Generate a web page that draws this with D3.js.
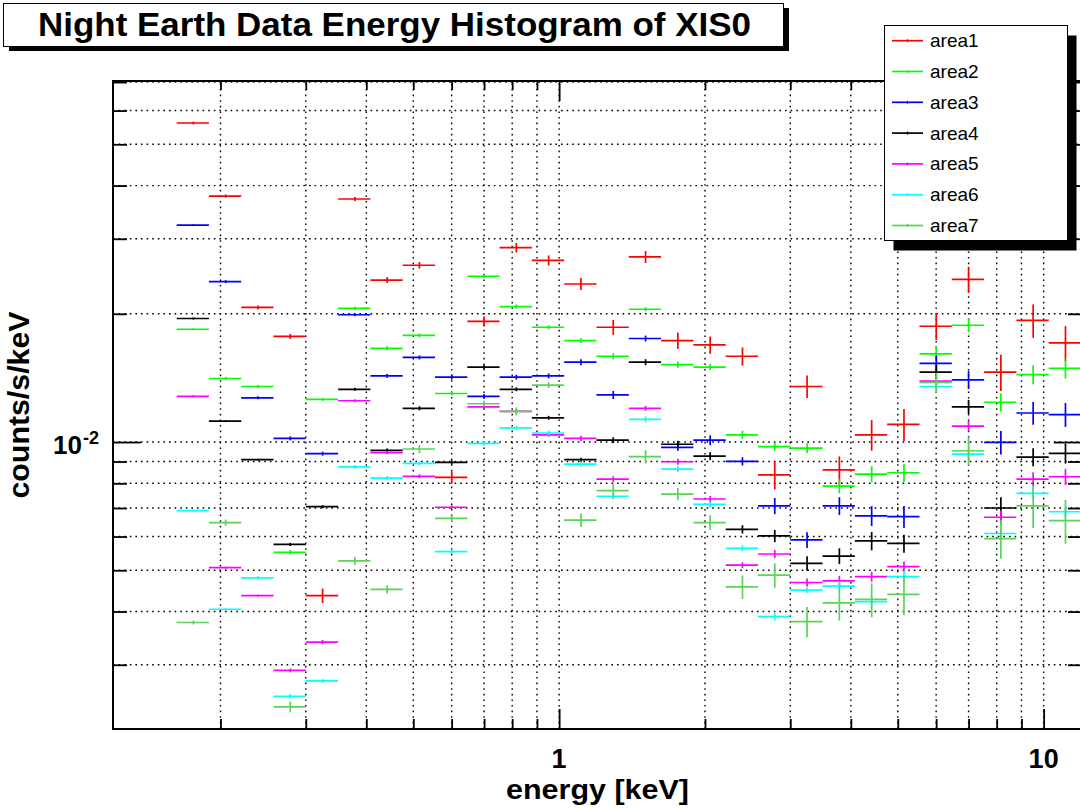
<!DOCTYPE html>
<html>
<head>
<meta charset="utf-8">
<script src="https://cdn.jsdelivr.net/npm/d3@7"></script>
<style>
  html, body { margin: 0; padding: 0; background: #fff; }
  svg { display: block; }
</style>
</head>
<body>
<svg id="chart" width="1080" height="809"></svg>
<script>
// Energy bin edges [keV], 15 bins per decade
const binEdges = [0.1624, 0.1893, 0.2207, 0.2573, 0.3000, 0.3498, 0.4078, 0.4754, 0.5543, 0.6463,
  0.7535, 0.8785, 1.0243, 1.1942, 1.3924, 1.6234, 1.8927, 2.2068, 2.5729, 3.0000,
  3.4977, 4.0780, 4.7547, 5.5436, 6.4633, 7.5357, 8.7860, 10.2436, 11.9432];

// counts/s/keV per bin and 1-sigma errors
const area1 = [0.0561, 0.0378, 0.0207, 0.0177, 0.00436, 0.0372, 0.0240, 0.0260, 0.00826, 0.0192, 0.0286, 0.0267, 0.0235, 0.0186, 0.0272, 0.0173, 0.0169, 0.0159, 0.00837, 0.0135, 0.00860, 0.0104, 0.0110, 0.0187, 0.0241, 0.0146, 0.0193, 0.0171];
const area1Err = [0.00045, 0.00031, 0.00022, 0.00024, 0.00017, 0.00040, 0.00039, 0.00046, 0.00027, 0.00052, 0.00073, 0.00072, 0.00076, 0.00075, 0.00088, 0.00077, 0.00079, 0.00078, 0.00063, 0.00082, 0.00065, 0.00086, 0.00095, 0.00134, 0.00169, 0.00142, 0.00174, 0.00161];

const area2 = [0.0184, 0.0141, 0.0135, 0.00551, 0.0126, 0.0206, 0.0166, 0.0178, 0.0130, 0.0245, 0.0208, 0.0186, 0.0173, 0.0159, 0.0205, 0.0152, 0.0150, 0.0104, 0.00975, 0.00968, 0.00788, 0.00841, 0.00847, 0.0161, 0.0188, 0.0124, 0.0144, 0.0149];
const area2Err = [0.00010, 0.00011, 0.00011, 0.00006, 0.00010, 0.00017, 0.00018, 0.00019, 0.00014, 0.00027, 0.00023, 0.00020, 0.00023, 0.00026, 0.00022, 0.00025, 0.00024, 0.00023, 0.00021, 0.00026, 0.00030, 0.00036, 0.00041, 0.00061, 0.00068, 0.00060, 0.00074, 0.00080];

const area3 = [0.0323, 0.0238, 0.0127, 0.0102, 0.00939, 0.0199, 0.0143, 0.0158, 0.0142, 0.0128, 0.0142, 0.0143, 0.0154, 0.0129, 0.0175, 0.00972, 0.0101, 0.00901, 0.00708, 0.00589, 0.00708, 0.00671, 0.00668, 0.0153, 0.0140, 0.00998, 0.0117, 0.0116];
const area3Err = [0.00017, 0.00019, 0.00010, 0.00011, 0.00010, 0.00016, 0.00015, 0.00017, 0.00019, 0.00017, 0.00019, 0.00019, 0.00025, 0.00028, 0.00028, 0.00018, 0.00027, 0.00020, 0.00031, 0.00025, 0.00034, 0.00036, 0.00040, 0.00066, 0.00068, 0.00063, 0.00072, 0.00075];

const area4 = [0.0195, 0.0112, 0.00909, 0.00575, 0.00705, 0.0133, 0.00956, 0.0120, 0.00896, 0.0150, 0.0133, 0.0114, 0.00909, 0.0101, 0.0154, 0.00988, 0.00927, 0.00624, 0.00602, 0.00519, 0.00540, 0.00586, 0.00578, 0.0146, 0.0121, 0.00700, 0.00922, 0.00941];
const area4Err = [0.00011, 0.00006, 0.00005, 0.00005, 0.00006, 0.00011, 0.00010, 0.00013, 0.00010, 0.00016, 0.00014, 0.00012, 0.00010, 0.00016, 0.00025, 0.00019, 0.00020, 0.00014, 0.00020, 0.00020, 0.00023, 0.00029, 0.00028, 0.00055, 0.00046, 0.00042, 0.00045, 0.00051];

const area5 = [0.0128, 0.00507, 0.00436, 0.00291, 0.00339, 0.0125, 0.00944, 0.00831, 0.00703, 0.0121, 0.0118, 0.0104, 0.0102, 0.00818, 0.0120, 0.00899, 0.00735, 0.00514, 0.00546, 0.00468, 0.00472, 0.00483, 0.00510, 0.0139, 0.0109, 0.00666, 0.00818, 0.00829];
const area5Err = [0.00007, 0.00003, 0.00002, 0.00003, 0.00004, 0.00010, 0.00008, 0.00009, 0.00008, 0.00013, 0.00013, 0.00011, 0.00014, 0.00013, 0.00016, 0.00015, 0.00012, 0.00008, 0.00012, 0.00010, 0.00013, 0.00013, 0.00014, 0.00038, 0.00032, 0.00025, 0.00031, 0.00036];

const area6 = [0.00690, 0.00405, 0.00480, 0.00253, 0.00275, 0.00874, 0.00823, 0.00891, 0.00553, 0.00993, 0.0108, 0.0105, 0.00887, 0.00746, 0.0113, 0.00864, 0.00714, 0.00563, 0.00389, 0.00449, 0.00459, 0.00422, 0.00483, 0.0135, 0.00937, 0.00610, 0.00758, 0.00686];
const area6Err = [0.00004, 0.00002, 0.00004, 0.00003, 0.00003, 0.00009, 0.00009, 0.00010, 0.00006, 0.00011, 0.00012, 0.00014, 0.00012, 0.00012, 0.00018, 0.00014, 0.00012, 0.00009, 0.00008, 0.00007, 0.00012, 0.00011, 0.00016, 0.00029, 0.00020, 0.00017, 0.00025, 0.00019];

const area7 = [0.00377, 0.00647, null, 0.00239, null, 0.00526, 0.00451, 0.00963, 0.00662, 0.0123, 0.0118, 0.0136, 0.00656, 0.00769, 0.00924, 0.00755, 0.00647, 0.00457, 0.00487, 0.00379, 0.00419, 0.00427, 0.00439, 0.0138, 0.00954, 0.00593, 0.00708, 0.00654];
const area7Err = [0.00004, 0.00011, null, 0.00007, null, 0.00011, 0.00010, 0.00021, 0.00011, 0.00020, 0.00025, 0.00022, 0.00024, 0.00031, 0.00033, 0.00025, 0.00026, 0.00029, 0.00032, 0.00031, 0.00038, 0.00039, 0.00047, 0.00075, 0.00072, 0.00061, 0.00080, 0.00077];

const seriesNames = ["area1", "area2", "area3", "area4", "area5", "area6", "area7"];
const seriesColors = ["#ff0000", "#00ff00", "#0000ff", "#000000", "#ff00ff", "#00ffff", "#59d454"];
const seriesValues = [area1, area2, area3, area4, area5, area6, area7];
const seriesErrors = [area1Err, area2Err, area3Err, area4Err, area5Err, area6Err, area7Err];

const xMajorTicks = [1, 10];
const xTickLabels = ["1", "10"];
const yMajorTicks = [0.01];
const titleText = "Night Earth Data Energy Histogram of XIS0";
const xTitle = "energy [keV]";
const yTitle = "counts/s/keV";

const FONT = "'Liberation Sans', Arial, Helvetica, sans-serif";
const frame = { left: 113, right: 1082, top: 81, bottom: 729 };

const x = d3.scaleLog().domain([0.12, 12]).range([frame.left, frame.right]);
const y = d3.scaleLog().domain([0.00212, 0.0704]).range([frame.bottom, frame.top]);

const svg = d3.select("#chart");
svg.append("rect").attr("width", 1080).attr("height", 809).attr("fill", "#fff");

// grid
const xGrid = x.ticks();
const yGrid = y.ticks();
const grid = svg.append("g").attr("stroke", "#000").attr("stroke-width", 1.4)
  .attr("stroke-dasharray", "1.6,4");
grid.selectAll("line.gx").data(xGrid).join("line").attr("class", "gx")
  .attr("x1", d => x(d)).attr("x2", d => x(d))
  .attr("y1", frame.bottom).attr("y2", frame.top);
grid.selectAll("line.gy").data(yGrid).join("line").attr("class", "gy")
  .attr("y1", d => y(d)).attr("y2", d => y(d))
  .attr("x1", frame.left).attr("x2", frame.right);

// axis ticks (drawn inward on all four sides)
const isMajor = (v, majors) => majors.some(m => Math.abs(v / m - 1) < 1e-6);
function tickAxis(axisFn, scale, values, len, transform) {
  const g = svg.append("g").attr("transform", transform)
    .call(axisFn(scale).tickValues(values).tickSize(len).tickSizeOuter(0).tickFormat(""));
  g.select(".domain").remove();
  g.selectAll(".tick line").attr("stroke", "#000").attr("stroke-width", 1.8);
  return g;
}
const xMinor = xGrid.filter(v => !isMajor(v, xMajorTicks));
const yMinor = yGrid.filter(v => !isMajor(v, yMajorTicks));
tickAxis(d3.axisBottom, x, xMinor, -10, `translate(0,${frame.bottom})`);
tickAxis(d3.axisBottom, x, xMajorTicks, -20, `translate(0,${frame.bottom})`);
tickAxis(d3.axisTop, x, xMinor, -9, `translate(0,${frame.top})`);
tickAxis(d3.axisTop, x, xMajorTicks, -20, `translate(0,${frame.top})`);
tickAxis(d3.axisLeft, y, yMinor, -14, `translate(${frame.left},0)`);
tickAxis(d3.axisLeft, y, yMajorTicks, -28, `translate(${frame.left},0)`);
tickAxis(d3.axisRight, y, yMinor, -14, `translate(${frame.right},0)`);
tickAxis(d3.axisRight, y, yMajorTicks, -28, `translate(${frame.right},0)`);

// data: horizontal bar spans the bin, vertical bar is the error
const plot = svg.append("g");
seriesValues.forEach((vals, si) => {
  const pts = vals.map((v, i) => ({ v, e: seriesErrors[si][i], lo: binEdges[i], hi: binEdges[i + 1] }))
    .filter(d => d.v != null);
  const g = plot.append("g").attr("stroke", seriesColors[si]).attr("stroke-width", 1.7).attr("fill", "none");
  g.selectAll("line.hbar").data(pts).join("line").attr("class", "hbar")
    .attr("x1", d => x(d.lo)).attr("x2", d => x(d.hi))
    .attr("y1", d => y(d.v)).attr("y2", d => y(d.v));
  g.selectAll("line.vbar").data(pts).join("line").attr("class", "vbar")
    .attr("x1", d => x((d.lo + d.hi) / 2)).attr("x2", d => x((d.lo + d.hi) / 2))
    .attr("y1", d => y(d.v - d.e)).attr("y2", d => y(d.v + d.e));
});

// frame
svg.append("rect")
  .attr("x", frame.left).attr("y", frame.top)
  .attr("width", frame.right - frame.left).attr("height", frame.bottom - frame.top)
  .attr("fill", "none").attr("stroke", "#000").attr("stroke-width", 2);

// tick labels
svg.append("g").selectAll("text").data(xMajorTicks).join("text")
  .attr("x", d => x(d)).attr("y", 768)
  .attr("text-anchor", "middle")
  .attr("font-family", FONT).attr("font-weight", "bold").attr("font-size", 27)
  .text((d, i) => xTickLabels[i]);

const yl = svg.append("text")
  .attr("x", 53).attr("y", y(yMajorTicks[0]) + 12)
  .attr("text-anchor", "start")
  .attr("font-family", FONT).attr("font-weight", "bold").attr("font-size", 26);
yl.append("tspan").text("10");
yl.append("tspan").attr("font-size", 18).attr("dx", 1).attr("dy", -10).text("-2");

// axis titles
svg.append("text")
  .attr("x", (frame.left + frame.right) / 2).attr("y", 799)
  .attr("text-anchor", "middle")
  .attr("font-family", FONT).attr("font-weight", "bold").attr("font-size", 27)
  .attr("textLength", 183).attr("lengthAdjust", "spacingAndGlyphs")
  .text(xTitle);
svg.append("text")
  .attr("transform", `translate(29,${(frame.top + frame.bottom) / 2}) rotate(-90)`)
  .attr("text-anchor", "middle")
  .attr("font-family", FONT).attr("font-weight", "bold").attr("font-size", 29)
  .attr("textLength", 187).attr("lengthAdjust", "spacingAndGlyphs")
  .text(yTitle);

// title box with shadow
svg.append("rect").attr("x", 9).attr("y", 8).attr("width", 780).attr("height", 43).attr("fill", "#000");
svg.append("rect").attr("x", 3.5).attr("y", 3.5).attr("width", 780).attr("height", 43)
  .attr("fill", "#fff").attr("stroke", "#000").attr("stroke-width", 1);
svg.append("text")
  .attr("x", 394.5).attr("y", 36)
  .attr("text-anchor", "middle")
  .attr("font-family", FONT).attr("font-weight", "bold").attr("font-size", 33)
  .attr("textLength", 713).attr("lengthAdjust", "spacingAndGlyphs")
  .text(titleText);

// legend with shadow
const leg = { x: 884.5, y: 25.5, w: 183, h: 215 };
svg.append("rect").attr("x", leg.x + 9).attr("y", leg.y + 10).attr("width", leg.w).attr("height", leg.h).attr("fill", "#000");
svg.append("rect").attr("x", leg.x).attr("y", leg.y).attr("width", leg.w).attr("height", leg.h)
  .attr("fill", "#fff").attr("stroke", "#000").attr("stroke-width", 1);
const rows = svg.append("g").selectAll("g").data(seriesNames).join("g")
  .attr("transform", (d, i) => `translate(0,${40.7 + i * 30.8})`);
rows.append("line").attr("x1", 892).attr("x2", 923).attr("y1", 0).attr("y2", 0)
  .attr("stroke", (d, i) => seriesColors[i]).attr("stroke-width", 1.7);
rows.append("line").attr("x1", 907.5).attr("x2", 907.5).attr("y1", -1.5).attr("y2", 1.5)
  .attr("stroke", (d, i) => seriesColors[i]).attr("stroke-width", 1.2);
rows.append("text").attr("x", 930).attr("y", 6.5)
  .attr("font-family", FONT).attr("font-size", 19).attr("fill", "#000")
  .text(d => d);
</script>
</body>
</html>
